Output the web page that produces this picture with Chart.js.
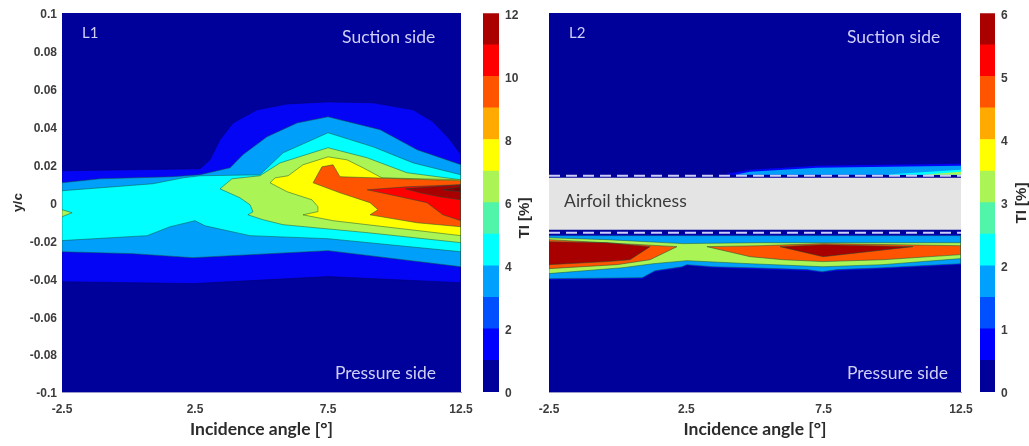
<!DOCTYPE html>
<html>
<head>
<meta charset="utf-8">
<script src="https://cdn.jsdelivr.net/npm/chart.js@4"></script>
<style>
    body { margin: 0; background: #fff; overflow: hidden; }
    canvas { position: absolute; top: 0; filter: blur(0.5px); }
</style>
</head>
<body>
<canvas id="contourL1" width="500" height="446" style="left:0"></canvas>
<canvas id="barL1" width="62" height="446" style="left:478px"></canvas>
<canvas id="contourL2" width="470" height="446" style="left:520px"></canvas>
<canvas id="barL2" width="54" height="446" style="left:975px"></canvas>
<script>
// axis ticks
const angleTicks = [-2.5, 2.5, 7.5, 12.5];
const ycTicks = [-0.1, -0.08, -0.06, -0.04, -0.02, 0, 0.02, 0.04, 0.06, 0.08, 0.1];

// colour bars
const barColors = ["#00009b", "#0000ff", "#0050ff", "#00a0ff", "#00ffff", "#50f5aa",
    "#aaf555", "#ffff00", "#ffaa00", "#ff5500", "#ff0000", "#aa0000"];
const barStepL1 = [1, 1, 1, 1, 1, 1, 1, 1, 1, 1, 1, 1];
const barStepL2 = [0.5, 0.5, 0.5, 0.5, 0.5, 0.5, 0.5, 0.5, 0.5, 0.5, 0.5, 0.5];

// whole domain
const domain = [[-2.5, -0.1], [12.5, -0.1], [12.5, 0.1], [-2.5, 0.1]];

// L1 contour outlines, [angle, y/c]
const l1Blue = [[-2.5, 0.0167], [2.69, 0.0178], [3.06, 0.0225], [3.44, 0.0331], [3.93, 0.042], [4.83, 0.0489],
    [5.96, 0.052], [7.5, 0.0531], [9.19, 0.0526], [10.7, 0.0489], [11.45, 0.0426], [12.09, 0.0331], [12.5, 0.0252],
    [12.5, -0.0423], [7.5, -0.0391], [2.42, -0.0428], [-2.5, -0.0418]];
const l1Sky = [[-2.5, 0.0104], [-1.07, 0.0125], [1.67, 0.0136], [2.69, 0.0146], [3.82, 0.0183], [4.3, 0.0252],
    [5.21, 0.0347], [6.34, 0.042], [7.5, 0.0452], [9.46, 0.0384], [10.85, 0.0278], [12.5, 0.0199],
    [12.5, -0.0339], [7.5, -0.0254], [2.42, -0.0291], [0.17, -0.027], [-2.5, -0.026]];
const l1Cyan = [[-2.5, 0.0062], [0.92, 0.0099], [2.05, 0.013], [2.69, 0.0141], [4.94, 0.0146], [5.81, 0.0262],
    [7.5, 0.0368], [9.19, 0.0294], [10.7, 0.0209], [12.5, 0.0146],
    [12.5, -0.026], [7.5, -0.0191], [4.57, -0.0175], [2.88, -0.0123], [2.5, -0.0096], [1.56, -0.0128],
    [0.7, -0.0175], [-2.5, -0.0201]];
const l1Lime = [[3.44, 0.0072], [3.89, 0.0125], [4.94, 0.0141], [5.7, 0.0209], [7.5, 0.0289], [8.97, 0.0236],
    [10.47, 0.0157], [12.5, 0.012], [12.5, -0.0212], [8.97, -0.0159], [5.81, -0.0117], [5.06, -0.0091],
    [4.49, -0.0065], [4.68, -0.0049], [4.57, -0.0012], [4.19, 0.0025]];
const l1LimeLeft = [[-2.5, -0.0038], [-2.12, -0.0054], [-2.5, -0.0075]];
const l1Yellow = [[5.32, 0.0104], [5.51, 0.013], [6.0, 0.0141], [6.56, 0.0199], [7.5, 0.0241], [8.22, 0.0225],
    [8.82, 0.0183], [9.53, 0.013], [12.5, 0.012], [12.5, -0.0175], [7.69, -0.0096], [6.56, -0.0065],
    [7.09, -0.0049], [7.12, -0.0022], [6.9, 0.0014], [5.96, 0.0057]];
const l1Orange = [[6.94, 0.0104], [7.27, 0.0188], [7.69, 0.0199], [7.95, 0.0136], [12.5, 0.0115], [12.5, -0.0128],
    [10.85, -0.0107], [9.08, -0.0065], [9.38, -0.0038], [9.08, -0.0001], [7.95, 0.0051]];
const l1Red = [[8.97, 0.0067], [10.47, 0.0083], [12.5, 0.0094], [12.5, -0.0096], [11.82, -0.0065],
    [11.22, -0.0001], [10.21, 0.003]];
const l1DarkRed = [[10.4, 0.0072], [12.5, 0.0094], [12.5, 0.0014], [11.71, 0.003], [10.96, 0.0051]];
const l1Darkest = [[11.82, 0.0067], [12.5, 0.0083], [12.5, 0.0057]];

// L2 contour outlines, suction side
const l2TopBlue = [[3.98, 0.0152], [4.82, 0.0173], [7.26, 0.0194], [12.5, 0.0204], [12.5, 0.0146], [3.98, 0.0146]];
const l2TopSky = [[4.27, 0.0146], [4.82, 0.0162], [7.26, 0.0183], [12.5, 0.0194], [12.5, 0.0146]];
const l2TopCyan = [[9.66, 0.0146], [12.5, 0.0173], [12.5, 0.0146]];
const l2TopLime = [[11.12, 0.0146], [12.5, 0.0162], [12.5, 0.0146]];

// L2 contour outlines, pressure side
const l2Blue = [[-2.5, -0.017], [12.5, -0.017], [12.5, -0.0328], [9.66, -0.0349], [7.99, -0.036], [7.44, -0.037],
    [6.89, -0.036], [3.47, -0.0344], [2.5, -0.0333], [2.34, -0.0344], [1.36, -0.0365], [0.89, -0.0402], [-2.5, -0.0407]];
const l2Sky = [[-2.5, -0.0175], [12.5, -0.0175], [12.5, -0.0323], [9.66, -0.0344], [7.99, -0.0354], [7.44, -0.0365],
    [6.89, -0.0354], [4.82, -0.0344], [3.47, -0.0339], [2.52, -0.0328], [2.34, -0.0339], [1.36, -0.036],
    [0.89, -0.0397], [-2.5, -0.0402]];
const l2Lime = [[-2.5, -0.0186], [-0.39, -0.0196], [2.38, -0.0217], [5.18, -0.0212], [7.48, -0.0212], [12.5, -0.0212],
    [12.5, -0.0296], [9.66, -0.0328], [7.48, -0.0339], [4.82, -0.0323], [2.52, -0.0307], [1.29, -0.0323],
    [0.19, -0.0344], [-2.5, -0.0375]];
const l2OrangeLeft = [[-2.5, -0.0196], [2.16, -0.0233], [1.18, -0.0302], [-0.02, -0.0328], [-2.5, -0.0349]];
const l2OrangeRight = [[3.25, -0.0233], [5.18, -0.0228], [7.48, -0.0217], [12.5, -0.0228], [12.5, -0.0275],
    [9.66, -0.0302], [7.48, -0.0312], [6.02, -0.0302], [4.82, -0.0286], [4.2, -0.0265]];
const l2DarkLeft = [[-2.5, -0.0207], [-0.39, -0.0212], [1.18, -0.0233], [0.45, -0.0302], [-0.39, -0.0312], [-2.5, -0.0328]];
const l2DarkRight = [[5.91, -0.0233], [7.48, -0.0223], [10.75, -0.0233], [7.48, -0.0286]];

// airfoil
const airfoil = [[-2.5, 0.013], [12.5, 0.013], [12.5, -0.0144], [-2.5, -0.0144]];
const airfoilTop = [[-2.5, 0.0141], [12.5, 0.0141]];
const airfoilBottom = [[-2.5, -0.016], [12.5, -0.016]];

const NAVY = "#00009b", BLUE = "#0505f5", SKY = "#00a0fa", CYAN = "#00ffff", LIME = "#aaf555",
    YELLOW = "#ffff00", ORANGE = "#ff5500", RED = "#ff0000", DARK = "#a80000", DARKEST = "#7d0000";
const OUTLINE = "rgba(20,80,60,0.5)";
const TICK_FONT = { family: "Liberation Sans", size: 12, weight: "bold" };
const TICK_COLOR = "#3c3c3c";

// fills each polygon from the points the scales placed, then writes the notes
function polygonFill(notes) {
    return {
        id: "polygonFill",
        beforeDatasetDraw(chart, args) {
            const ds = chart.data.datasets[args.index];
            if (!ds.polygon) return;
            const pts = args.meta.data;
            const ctx = chart.ctx;
            ctx.save();
            ctx.fillStyle = ds.polygon;
            ctx.beginPath();
            pts.forEach((p, i) => (i ? ctx.lineTo(p.x, p.y) : ctx.moveTo(p.x, p.y)));
            ctx.closePath();
            ctx.fill();
            ctx.restore();
        },
        afterDatasetsDraw(chart) {
            const ctx = chart.ctx;
            ctx.save();
            ctx.textBaseline = "middle";
            notes.forEach((n) => {
                ctx.font = n.font || "17.5px Lato";
                ctx.fillStyle = n.color || "#cfcff5";
                ctx.fillText(n.text, chart.scales.x.getPixelForValue(n.x), chart.scales.y.getPixelForValue(n.y));
            });
            ctx.restore();
        },
    };
}

function contourChart(id, layers, notes, showY, padding) {
    const datasets = layers.map((l, i) => ({
        data: l[0].concat([l[0][0]]).map((p) => ({ x: p[0], y: p[1] })),
        polygon: l[1],
        borderColor: l[2] === undefined ? OUTLINE : l[2],
        borderWidth: l[2] === null ? 0 : 1,
        showLine: true,
        tension: 0,
        pointRadius: 0,
        clip: 0,
        order: -i,
    }));
    [airfoilTop, airfoilBottom].forEach((line) => {
        if (id !== "contourL2") return;
        datasets.push({
            data: line.map((p) => ({ x: p[0], y: p[1] })),
            borderColor: "#cdcdfa",
            borderWidth: 2,
            borderDash: [11, 6],
            showLine: true,
            pointRadius: 0,
            order: -100,
        });
    });
    return new Chart(document.getElementById(id), {
        type: "scatter",
        data: { datasets },
        plugins: [polygonFill(notes)],
        options: {
            responsive: false,
            animation: false,
            layout: { padding },
            plugins: { legend: { display: false }, tooltip: { enabled: false } },
            scales: {
                x: {
                    type: "linear",
                    min: -2.5,
                    max: 12.5,
                    afterBuildTicks: (axis) => { axis.ticks = angleTicks.map((v) => ({ value: v })); },
                    afterFit: (axis) => { axis.height = 54; },
                    grid: { display: false, drawTicks: false },
                    border: { color: "#9a9ac8" },
                    ticks: { font: TICK_FONT, color: TICK_COLOR, padding: 10, maxRotation: 0, autoSkip: false,
                        callback: (v) => v },
                    title: { display: true, text: "Incidence angle [°]", color: "#2b2b2b", padding: { top: 7, bottom: 6 },
                        font: { family: "Lato", size: 17.5, weight: "bold" } },
                },
                y: {
                    min: -0.1,
                    max: 0.1,
                    display: showY,
                    afterBuildTicks: (axis) => { axis.ticks = ycTicks.map((v) => ({ value: v })); },
                    afterFit: (axis) => { axis.width = showY ? 62 : 0; },
                    grid: { display: false, drawTicks: false },
                    border: { color: "#9a9ac8" },
                    ticks: { font: TICK_FONT, color: TICK_COLOR, padding: 5, labelOffset: 2, autoSkip: false,
                        callback: (v) => v },
                    title: { display: true, text: "y/c", color: "#2b2b2b", padding: { top: 10, bottom: 0 },
                        font: { family: "Liberation Sans", size: 13.5, weight: "bold" } },
                },
            },
        },
    });
}

function colorBar(id, steps, maxValue, tickStep, axisWidth, titleGap, titleY) {
    return new Chart(document.getElementById(id), {
        type: "bar",
        data: {
            labels: ["TI"],
            datasets: steps.map((v, i) => ({
                data: [v],
                backgroundColor: barColors[i],
                barPercentage: 1,
                categoryPercentage: 1,
            })),
        },
        plugins: [{
            id: "barTitle",
            afterDraw(chart) {
                const ctx = chart.ctx;
                ctx.save();
                ctx.translate(chart.chartArea.right + titleGap, titleY);
                ctx.rotate(-Math.PI / 2);
                ctx.font = "bold 15px 'Liberation Sans'";
                ctx.fillStyle = "#2b2b2b";
                ctx.textAlign = "center";
                ctx.textBaseline = "middle";
                ctx.fillText("TI [%]", 0, 0);
                ctx.restore();
            },
        }],
        options: {
            responsive: false,
            animation: false,
            layout: { padding: { left: 5, top: 13, bottom: 54 } },
            plugins: { legend: { display: false }, tooltip: { enabled: false } },
            scales: {
                x: { stacked: true, display: false },
                y: {
                    stacked: true,
                    position: "right",
                    min: 0,
                    max: maxValue,
                    afterFit: (axis) => { axis.width = axisWidth; },
                    grid: { display: false, drawTicks: false },
                    border: { display: false },
                    ticks: { stepSize: tickStep, font: TICK_FONT, color: TICK_COLOR, padding: 6, labelOffset: 2 },
                },
            },
        },
    });
}

contourChart("contourL1", [
    [domain, NAVY, null],
    [l1Blue, BLUE, "rgba(0,0,110,0.5)"],
    [l1Sky, SKY],
    [l1Cyan, CYAN],
    [l1Lime, LIME],
    [l1LimeLeft, LIME],
    [l1Yellow, YELLOW],
    [l1Orange, ORANGE],
    [l1Red, RED],
    [l1DarkRed, DARK],
    [l1Darkest, DARKEST],
], [
    { text: "L1", x: -1.75, y: 0.0895, font: "15px Lato" },
    { text: "Suction side", x: 8.03, y: 0.0873 },
    { text: "Pressure side", x: 7.76, y: -0.0903 },
], true, { left: 0, right: 39, top: 13, bottom: 0 });

contourChart("contourL2", [
    [domain, NAVY, null],
    [l2TopBlue, BLUE, null],
    [l2TopSky, SKY, null],
    [l2TopCyan, CYAN, null],
    [l2TopLime, LIME, null],
    [l2Blue, BLUE, null],
    [l2Sky, SKY],
    [l2Lime, LIME],
    [l2OrangeLeft, ORANGE],
    [l2OrangeRight, ORANGE],
    [l2DarkLeft, DARK],
    [l2DarkRight, DARK],
    [airfoil, "#e4e4e4", null],
], [
    { text: "L2", x: -1.77, y: 0.0895, font: "15px Lato" },
    { text: "Suction side", x: 8.35, y: 0.0873 },
    { text: "Pressure side", x: 8.35, y: -0.0903 },
    { text: "Airfoil thickness", x: -1.95, y: 0.0004, color: "#3a3a3a" },
], false, { left: 29, right: 29, top: 13, bottom: 0 });

colorBar("barL1", barStepL1, 12, 2, 41, 26, 218);
colorBar("barL2", barStepL2, 6, 1, 34, 27, 203);
</script>
</body>
</html>
